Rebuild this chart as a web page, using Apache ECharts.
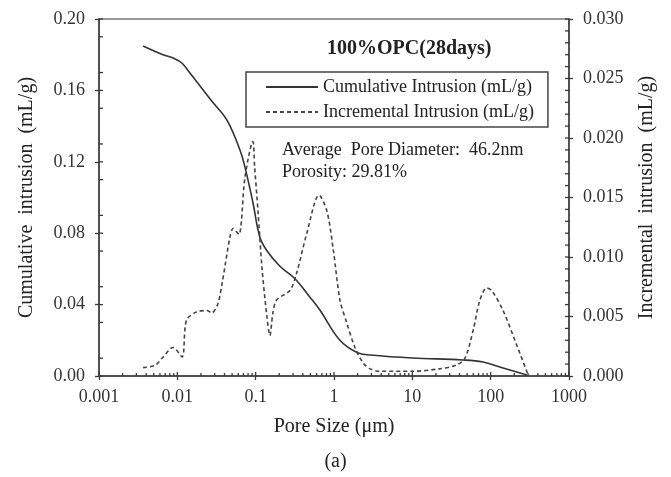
<!DOCTYPE html>
<html>
<head>
<meta charset="utf-8">
<script src="https://cdn.jsdelivr.net/npm/echarts@6/dist/echarts.min.js"></script>
<style>
  html, body { margin: 0; padding: 0; background: #fff; }
  #chart { width: 671px; height: 477px; }
</style>
</head>
<body>
<div id="chart"></div>
<script>
// 曲线数据
var cumX = [0.00365, 0.00656, 0.009, 0.0115, 0.0145, 0.0195, 0.0285, 0.043, 0.063, 0.073, 0.0925, 0.113, 0.14, 0.204, 0.318, 0.49, 0.66, 1.19, 2.0, 2.9, 10, 44, 80, 144, 290];
var cumY = [0.1849, 0.1800, 0.1780, 0.1752, 0.1697, 0.1625, 0.1532, 0.1434, 0.1266, 0.117, 0.0969, 0.0779, 0.0700, 0.0615, 0.0545, 0.0443, 0.037, 0.020, 0.013, 0.0118, 0.0101, 0.009, 0.0078, 0.0045, 0.0005];

var incX = [0.00365, 0.0052, 0.0066, 0.0088, 0.0115, 0.0131, 0.0178, 0.0238, 0.0276, 0.033, 0.038, 0.047, 0.0515, 0.061, 0.073, 0.092, 0.097, 0.107, 0.12, 0.139, 0.152, 0.166, 0.186, 0.275, 0.335, 0.45, 0.645, 0.81, 0.98, 1.19, 1.45, 1.85, 2.35, 2.9, 3.8, 10, 22, 36, 47, 60, 73, 89, 105, 144, 218, 300];
var incY = [0.0007, 0.0009, 0.0016, 0.0024, 0.0016, 0.0047, 0.0054, 0.0055, 0.0053, 0.0061, 0.0081, 0.0117, 0.0124, 0.0119, 0.0167, 0.0197, 0.0176, 0.0139, 0.0092, 0.0050, 0.0034, 0.0053, 0.0064, 0.0072, 0.0087, 0.0120, 0.0152, 0.0139, 0.0106, 0.0064, 0.0045, 0.0024, 0.0011, 0.0006, 0.0004, 0.0004, 0.0006, 0.0009, 0.0015, 0.0039, 0.0064, 0.0074, 0.0071, 0.0055, 0.0025, 0.0001];

var seriesNames = ['Cumulative Intrusion (mL/g)', 'Incremental Intrusion (mL/g)'];
var titleText = '100%OPC(28days)';
var noteLines = ['Average  Pore Diameter:  46.2nm', 'Porosity: 29.81%'];
var panelLabel = '(a)';

// 次刻度
var xMinorTicks = [];
[0.001, 0.01, 0.1, 1, 10, 100].forEach(function (d) {
    for (var k = 2; k <= 9; k++) xMinorTicks.push(+(k * d).toPrecision(3));
});
var xMajorTicks = [0.001, 0.01, 0.1, 1, 10, 100, 1000];
var leftMinorTicks = [0.01, 0.03, 0.05, 0.07, 0.09, 0.11, 0.13, 0.15, 0.17, 0.19];
var leftMajorTicks = [0, 0.04, 0.08, 0.12, 0.16, 0.2];
var rightMinorTicks = [0.001, 0.002, 0.003, 0.004, 0.006, 0.007, 0.008, 0.009, 0.011, 0.012, 0.013, 0.014, 0.016, 0.017, 0.018, 0.019, 0.021, 0.022, 0.023, 0.024, 0.026, 0.027, 0.028, 0.029];
var rightMajorTicks = [0, 0.005, 0.01, 0.015, 0.02, 0.025, 0.03];

function pairs(xs, ys) {
    return xs.map(function (x, i) { return [x, ys[i]]; });
}

var FONT = 'Liberation Serif';
var AXIS_COLOR = '#3a3a3a';

// 刻度线画在坐标轴内侧
function tickSeries(data, yIndex, dir, len) {
    return {
        type: 'custom',
        yAxisIndex: yIndex,
        silent: true,
        z: 5,
        data: data,
        renderItem: function (params, api) {
            var p = api.coord([api.value(0), api.value(1)]);
            var dx = dir === 'x' ? 0 : (dir === 'l' ? len : -len);
            var dy = dir === 'x' ? -len : 0;
            return {
                type: 'line',
                shape: { x1: p[0], y1: p[1], x2: p[0] + dx, y2: p[1] + dy },
                style: { stroke: AXIS_COLOR, lineWidth: 1.3 }
            };
        }
    };
}

var myChart = echarts.init(document.getElementById('chart'));
var option = {
    backgroundColor: '#fff',
    animation: false,
    textStyle: { fontFamily: FONT },
    title: {
        text: titleText,
        left: 327,
        top: 39,
        padding: 0,
        textStyle: { fontFamily: FONT, fontSize: 20, fontWeight: 'bold', color: '#222' }
    },
    legend: {
        data: seriesNames,
        orient: 'vertical',
        left: 246,
        top: 72,
        padding: [6, 14, 6, 19],
        itemGap: 7,
        itemWidth: 52,
        itemHeight: 18,
        borderColor: '#444',
        borderWidth: 1.5,
        itemStyle: { opacity: 0 },
        textStyle: { fontFamily: FONT, fontSize: 18, color: '#222' }
    },
    grid: {
        left: 99,
        right: 102,
        top: 19,
        bottom: 101,
        show: true,
        borderColor: '#777',
        borderWidth: 1.5
    },
    xAxis: {
        type: 'log',
        logBase: 10,
        min: 0.001,
        max: 1000,
        name: 'Pore Size (μm)',
        nameLocation: 'middle',
        nameGap: 41,
        nameTextStyle: { fontFamily: FONT, fontSize: 20, color: '#222' },
        axisLine: { lineStyle: { color: AXIS_COLOR, width: 1.5 } },
        axisTick: { length: 4, lineStyle: { color: AXIS_COLOR, width: 1.3 } },
        axisLabel: {
            margin: 12,
            fontFamily: FONT, fontSize: 18, color: '#333',
            formatter: function (v) { return String(Number(v.toPrecision(6))); }
        },
        splitLine: { show: false }
    },
    yAxis: [{
        type: 'value',
        min: 0,
        max: 0.2,
        interval: 0.04,
        name: 'Cumulative  intrusion  (mL/g)',
        nameLocation: 'middle',
        nameGap: 62,
        nameTextStyle: { fontFamily: FONT, fontSize: 20, color: '#222' },
        axisLine: { show: true, lineStyle: { color: AXIS_COLOR, width: 1.5 } },
        axisTick: { show: true, length: 4, lineStyle: { color: AXIS_COLOR, width: 1.3 } },
        axisLabel: {
            margin: 14,
            fontFamily: FONT, fontSize: 18, color: '#333',
            formatter: function (v) { return v.toFixed(2); }
        },
        splitLine: { show: false }
    }, {
        type: 'value',
        position: 'right',
        min: 0,
        max: 0.03,
        interval: 0.005,
        name: 'Incremental  intrusion  (mL/g)',
        nameLocation: 'middle',
        nameGap: 68,
        nameTextStyle: { fontFamily: FONT, fontSize: 20, color: '#222' },
        axisLine: { show: true, lineStyle: { color: AXIS_COLOR, width: 1.5 } },
        axisTick: { show: true, length: 4, lineStyle: { color: AXIS_COLOR, width: 1.3 } },
        axisLabel: {
            margin: 14,
            fontFamily: FONT, fontSize: 18, color: '#333',
            formatter: function (v) { return v.toFixed(3); }
        },
        splitLine: { show: false }
    }],
    graphic: [{
        type: 'text',
        left: 282,
        top: 139,
        style: {
            text: noteLines.join('\n'),
            font: '18px "Liberation Serif"',
            fill: '#222',
            lineHeight: 22
        }
    }, {
        type: 'text',
        left: 'center',
        top: 452,
        style: {
            text: panelLabel,
            font: '20px "Liberation Serif"',
            fill: '#222'
        }
    }],
    series: [{
        name: seriesNames[0],
        type: 'line',
        yAxisIndex: 0,
        data: pairs(cumX, cumY),
        smooth: 0.4,
        symbol: 'none',
        lineStyle: { color: '#333', width: 1.6, type: 'solid' },
        itemStyle: { color: '#333' },
        z: 3
    }, {
        name: seriesNames[1],
        type: 'line',
        yAxisIndex: 1,
        data: pairs(incX, incY),
        smooth: 0.3,
        symbol: 'none',
        lineStyle: { color: '#444', width: 1.6, type: [4, 3] },
        itemStyle: { color: '#444' },
        z: 3
    },
    tickSeries(xMinorTicks.map(function (v) { return [v, 0]; }), 0, 'x', 3),
    tickSeries(xMajorTicks.map(function (v) { return [v, 0]; }), 0, 'x', 4),
    tickSeries(leftMinorTicks.map(function (v) { return [0.001, v]; }), 0, 'l', 4),
    tickSeries(leftMajorTicks.map(function (v) { return [0.001, v]; }), 0, 'l', 4),
    tickSeries(rightMinorTicks.map(function (v) { return [1000, v]; }), 1, 'r', 4),
    tickSeries(rightMajorTicks.map(function (v) { return [1000, v]; }), 1, 'r', 4)
    ]
};
myChart.setOption(option);
</script>
</body>
</html>
